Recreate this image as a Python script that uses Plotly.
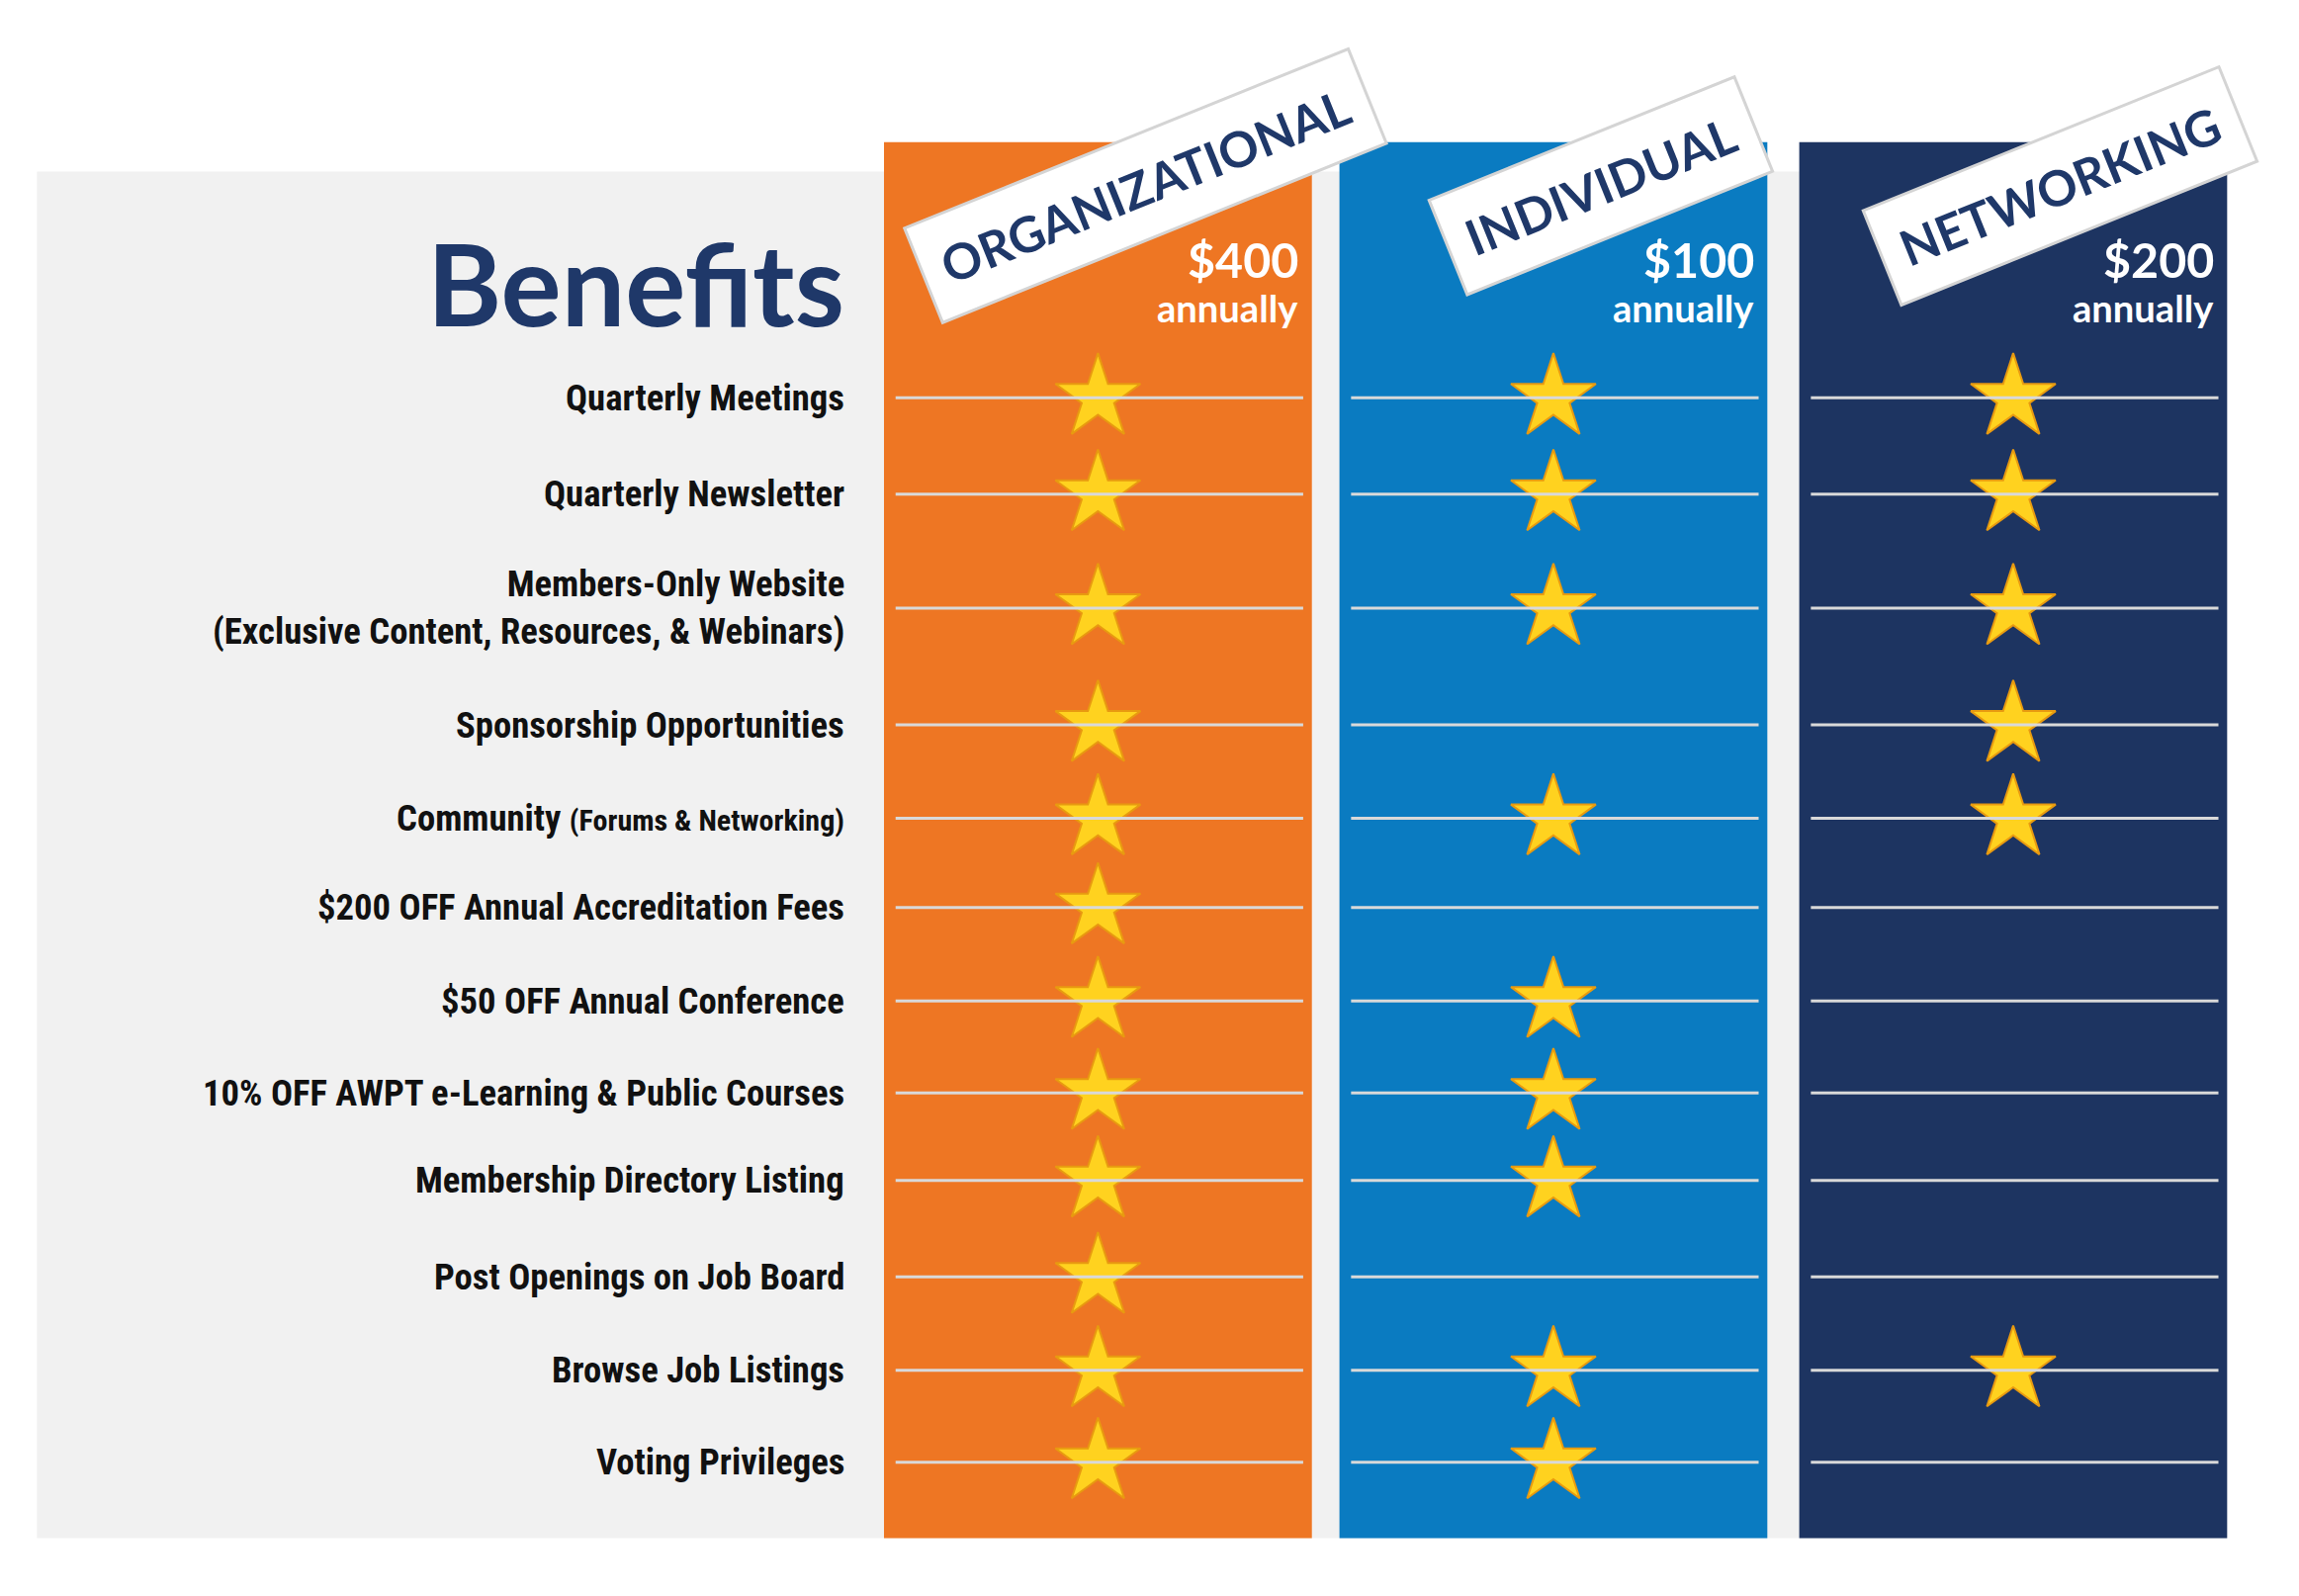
import plotly.graph_objects as go

# benefit rows and which tiers include them
benefits = [
    "Quarterly Meetings",
    "Quarterly Newsletter",
    "Members-Only Website<br>(Exclusive Content, Resources, & Webinars)",
    "Sponsorship Opportunities",
    "Community <span style='font-size:0.82em'>(Forums & Networking)</span>",
    "$200 OFF Annual Accreditation Fees",
    "$50 OFF Annual Conference",
    "10% OFF AWPT e-Learning & Public Courses",
    "Membership Directory Listing",
    "Post Openings on Job Board",
    "Browse Job Listings",
    "Voting Privileges",
]
tiers = ["ORGANIZATIONAL", "INDIVIDUAL", "NETWORKING"]
prices = ["$400", "$100", "$200"]
included = {
    "ORGANIZATIONAL": [1, 1, 1, 1, 1, 1, 1, 1, 1, 1, 1, 1],
    "INDIVIDUAL":     [1, 1, 1, 0, 1, 0, 1, 1, 1, 0, 1, 1],
    "NETWORKING":     [1, 1, 1, 1, 1, 0, 0, 0, 0, 0, 1, 0],
}
colors = ["#EE7623", "#0A7BC1", "#1D3461"]

# layout (in picture units)
W, H = 1585, 1093
S = 2325 / W
row_y = [267, 333, 411, 491, 555, 616, 680, 743, 803, 869, 933, 996]
col_left = [604, 918, 1235]
col_w = 295

fig = go.Figure()
shapes = [dict(type="rect", x0=20, x1=1530, y0=112, y1=1048,
               fillcolor="#F1F1F1", line_width=0, layer="below")]
ann = []
for i, t in enumerate(tiers):
    x0 = col_left[i]
    shapes.append(dict(type="rect", x0=x0, x1=x0 + col_w, y0=92, y1=1048,
                       fillcolor=colors[i], line_width=0, layer="below"))
    for y in row_y:
        shapes.append(dict(type="line", x0=x0 + 8, x1=x0 + col_w - 6, y0=y, y1=y,
                           line=dict(color="#D9D9D9", width=3)))
    cx = x0 + col_w / 2
    xs = [cx for k, v in enumerate(included[t]) if v]
    ys = [row_y[k] for k, v in enumerate(included[t]) if v]
    fig.add_trace(go.Scatter(x=xs, y=ys, mode="markers", hoverinfo="skip",
                             marker=dict(symbol="star", size=44 * S, color="#FFD21F",
                                         line=dict(color="#E89A10", width=2))))
    ann.append(dict(x=x0 + col_w - 8, y=172, text="<b>" + prices[i] + "</b>", xanchor="right",
                    yanchor="middle", showarrow=False,
                    font=dict(size=33 * S, color="white", family="Lato")))
    ann.append(dict(x=x0 + col_w - 8, y=205, text="<b>annually</b>", xanchor="right",
                    yanchor="middle", showarrow=False,
                    font=dict(size=26 * S, color="white", family="Lato")))
    ann.append(dict(x=x0 + 180, y=122, text="<b>" + t + "</b>", textangle=-22,
                    showarrow=False, bgcolor="white", bordercolor="#D4D4D4", borderwidth=3,
                    borderpad=20, font=dict(size=34 * S, color="#1F3869", family="Lato")))

ann.append(dict(x=578, y=188, text="<b>Benefits</b>", xanchor="right", yanchor="middle",
                showarrow=False, font=dict(size=78 * S, color="#1F3869", family="Lato")))
for b, y in zip(benefits, row_y):
    ann.append(dict(x=578, y=y, text="<b>" + b + "</b>", xanchor="right", yanchor="middle",
                    align="right", showarrow=False,
                    font=dict(size=25 * S, color="#111111", family="Roboto Condensed, Roboto")))

fig.update_layout(
    width=2325, height=1614, margin=dict(l=0, r=0, t=0, b=0),
    paper_bgcolor="white", plot_bgcolor="white", showlegend=False,
    shapes=shapes, annotations=ann,
    xaxis=dict(range=[0, W], visible=False, fixedrange=True),
    yaxis=dict(range=[H, 0], visible=False, fixedrange=True),
)
fig.write_html("out.html")
